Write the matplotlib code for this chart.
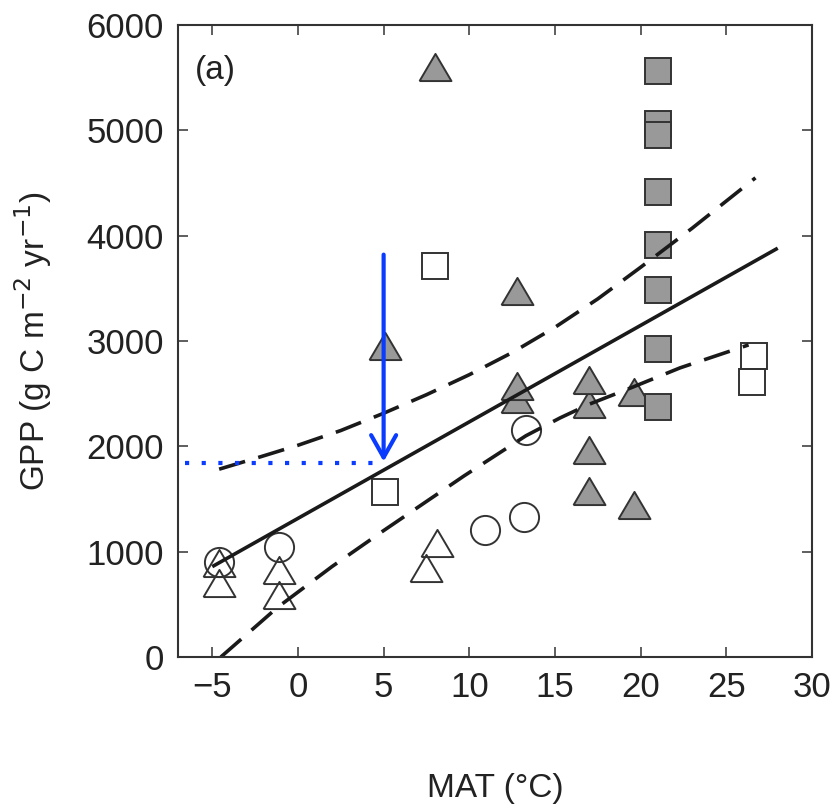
import numpy as np
import matplotlib.pyplot as plt

plt.rcParams['font.family'] = ['Liberation Sans', 'DejaVu Sans']

# gray filled triangles
tri_f_x = [8.0, 5.1, 12.8, 12.8, 12.8, 17.0, 17.0, 17.0, 17.0, 19.6, 19.6]
tri_f_y = [5600, 2950, 3470, 2450, 2575, 2405, 2630, 1965, 1575, 2520, 1440]
# gray filled squares
sq_f_x = [21.0, 21.0, 21.0, 21.0, 21.0, 21.0, 21.0, 21.0]
sq_f_y = [5560, 5060, 4955, 4410, 3915, 3480, 2920, 2370]
# open squares
sq_o_x = [8.0, 5.1, 26.6, 26.5]
sq_o_y = [3715, 1570, 2860, 2612]
# open circles
circ_x = [-4.6, -1.1, 10.9, 13.2, 13.3]
circ_y = [905, 1045, 1205, 1330, 2155]
# open triangles
tri_o_x = [-4.6, -4.6, -1.1, -1.1, 8.1, 7.5]
tri_o_y = [895, 705, 825, 590, 1080, 845]

# regression line and confidence bands
fit_x = [-5.0, 28.0]
fit_y = [858, 3881]
up_x = [-4.6, -2.2, 0.0, 2.5, 5.0, 7.5, 10.0, 12.5, 15.0, 17.5, 20.0, 23.0, 26.7]
up_y = [1783, 1900, 2010, 2150, 2314, 2490, 2680, 2890, 3130, 3400, 3700, 4070, 4549]
lo_x = [-4.5, -1.2, 2.0, 5.0, 9.7, 13.3, 15.3, 17.0, 19.2, 22.3, 26.3]
lo_y = [0, 470, 860, 1200, 1720, 2100, 2270, 2400, 2540, 2745, 2963]

# blue annotation
arrow_x = 5.0
arrow_top = 3820
arrow_tip = 1855
dot_y = 1845
dot_x = [-6.6, 4.8]

gray = '#999999'
edge = '#333333'
blue = '#0a3cff'

fig = plt.figure(figsize=(8.35, 8.08), dpi=100)
ax = fig.add_axes([178 / 835, 151 / 808, 634 / 835, 632 / 808])

tri_marker = [(-1, -0.85), (1, -0.85), (0, 0.85), (-1, -0.85)]

ax.plot(tri_o_x, tri_o_y, linestyle='none', marker=tri_marker, ms=23,
        mfc='none', mec=edge, mew=1.4)
ax.plot(circ_x, circ_y, linestyle='none', marker='o', ms=21,
        mfc='none', mec=edge, mew=1.4)
ax.plot(sq_o_x, sq_o_y, linestyle='none', marker='s', ms=18.5,
        mfc='none', mec=edge, mew=1.4)
for x, y in zip(tri_f_x, tri_f_y):
    ax.plot(x, y, linestyle='none', marker=tri_marker, ms=23,
            mfc=gray, mec=edge, mew=1.4)
for x, y in zip(sq_f_x, sq_f_y):
    ax.plot(x, y, linestyle='none', marker='s', ms=18.5,
            mfc=gray, mec=edge, mew=1.4)

ax.plot(fit_x, fit_y, color='#1a1a1a', lw=2.6, solid_capstyle='butt')
ax.plot(up_x, up_y, color='#1a1a1a', lw=2.6, linestyle=(0, (7.5, 3.8)))
ax.plot(lo_x, lo_y, color='#1a1a1a', lw=2.6, linestyle=(0, (7.5, 3.8)))

ax.plot(dot_x, [dot_y, dot_y], color=blue, lw=3, linestyle=(0, (1, 3)))
ax.annotate('', xy=(arrow_x, arrow_tip), xytext=(arrow_x, arrow_top),
            arrowprops=dict(arrowstyle='->,head_width=0.45,head_length=0.8',
                            color=blue, lw=3, shrinkA=0, shrinkB=0,
                            mutation_scale=20))

ax.text(0.027, 0.953, '(a)', transform=ax.transAxes, fontsize=24,
        color='#222222', ha='left', va='top')

ax.set_xlim(-7, 30)
ax.set_ylim(0, 6000)
ax.set_xticks([-5, 0, 5, 10, 15, 20, 25, 30])
ax.set_yticks([0, 1000, 2000, 3000, 4000, 5000, 6000])
ax.tick_params(direction='in', top=True, right=True, length=7, width=1.1,
               color=edge, labelsize=25, labelcolor='#222222', pad=10)
for s in ax.spines.values():
    s.set_linewidth(1.5)
    s.set_color(edge)

ax.set_xlabel('MAT (°C)', fontsize=24, color='#222222')
ax.xaxis.set_label_coords(0.5, -0.183)
ax.set_ylabel('GPP (g C m$^{-2}$ yr$^{-1}$)', fontsize=24, color='#222222')
ax.yaxis.set_label_coords(-0.196, 0.5)

fig.savefig('out.png', dpi=100)
